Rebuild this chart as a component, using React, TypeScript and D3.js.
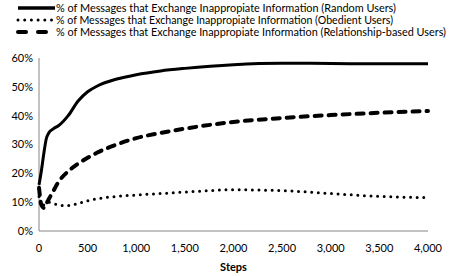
import React from 'react';
import * as d3 from 'd3';

const steps = [0, 25, 50, 75, 100, 150, 200, 300, 400, 500, 600, 800, 1000, 1250, 1500, 2000, 2500, 3000, 3500, 4000];
const randomUsers = [0.16, 0.21, 0.27, 0.32, 0.34, 0.355, 0.365, 0.40, 0.45, 0.483, 0.503, 0.527, 0.542, 0.555, 0.564, 0.577, 0.582, 0.581, 0.580, 0.580];
const obedientUsers = [0.12, 0.085, 0.09, 0.098, 0.10, 0.095, 0.09, 0.088, 0.095, 0.105, 0.112, 0.12, 0.125, 0.13, 0.135, 0.143, 0.14, 0.13, 0.12, 0.116];
const relationshipUsers = [0.15, 0.09, 0.08, 0.095, 0.11, 0.14, 0.17, 0.207, 0.233, 0.254, 0.272, 0.30, 0.322, 0.34, 0.355, 0.378, 0.392, 0.402, 0.41, 0.416];

const xTicks = [0, 500, 1000, 1500, 2000, 2500, 3000, 3500, 4000];
const yTicks = [0, 0.1, 0.2, 0.3, 0.4, 0.5, 0.6];

const legendLabels = [
  '% of Messages that Exchange Inappropiate Information (Random Users)',
  '% of Messages that Exchange Inappropiate Information (Obedient Users)',
  '% of Messages that Exchange Inappropiate Information (Relationship-based Users)',
];
// widths the legend texts take in the reference
const legendWidths = [340, 337, 390];

const width = 449;
const height = 276;
const font = 'Lato, "Liberation Sans", sans-serif';

export default function App() {
  const x = d3.scaleLinear().domain([0, 4000]).range([39, 428]);
  const y = d3.scaleLinear().domain([0, 0.6]).range([231, 58]);

  const line = d3.line<number>()
    .x((d, i) => x(steps[i]))
    .y(d => y(d))
    .curve(d3.curveMonotoneX);

  const styles = [
    { width: 3, dash: undefined, cap: 'butt' },
    { width: 3, dash: '0 6.6', cap: 'round' },
    { width: 4, dash: '7 7', cap: 'round' },
  ];
  const series = [randomUsers, obedientUsers, relationshipUsers];

  return (
    <svg width={width} height={height} style={{ position: 'absolute', left: 0, top: 0 }}
      fontFamily={font}>
      <rect width={width} height={height} fill="#fff" />

      {/* legend */}
      <g>
        <line x1={18} x2={55} y1={8} y2={8} stroke="#000" strokeWidth={3.5} />
        <line x1={18} x2={52} y1={20} y2={20} stroke="#000" strokeWidth={3}
          strokeDasharray="0 6.7" strokeLinecap="round" />
        <line x1={18} x2={48} y1={32} y2={32} stroke="#000" strokeWidth={4}
          strokeDasharray="8 12" strokeLinecap="round" />
        {legendLabels.map((t, i) => (
          <text key={i} x={i === 2 ? 56 : 56} y={8 + i * 12} dy="0.35em" fontSize={10.8} fill="#000"
            textLength={legendWidths[i]} lengthAdjust="spacingAndGlyphs">{t}</text>
        ))}
      </g>

      {/* axes */}
      <line x1={x(0)} x2={x(0)} y1={y(0.6)} y2={y(0)} stroke="#868686" />
      <line x1={x(0)} x2={x(4000)} y1={y(0)} y2={y(0)} stroke="#868686" />
      {yTicks.map(t => (
        <text key={t} x={33} y={y(t)} dy="0.35em" textAnchor="end" fontSize={11} fill="#000">
          {d3.format('.0%')(t)}
        </text>
      ))}
      {xTicks.map(t => (
        <text key={t} x={x(t)} y={248} dy="0.35em" textAnchor="middle" fontSize={11} fill="#000">
          {d3.format(',')(t)}
        </text>
      ))}
      <text x={x(2000)} y={267} dy="0.35em" textAnchor="middle" fontSize={11} fontWeight="bold">Steps</text>

      {/* series */}
      {series.map((s, i) => (
        <path key={i} d={line(s) || ''} fill="none" stroke="#000" strokeWidth={styles[i].width}
          strokeDasharray={styles[i].dash} strokeLinecap={styles[i].cap as any} />
      ))}
    </svg>
  );
}
